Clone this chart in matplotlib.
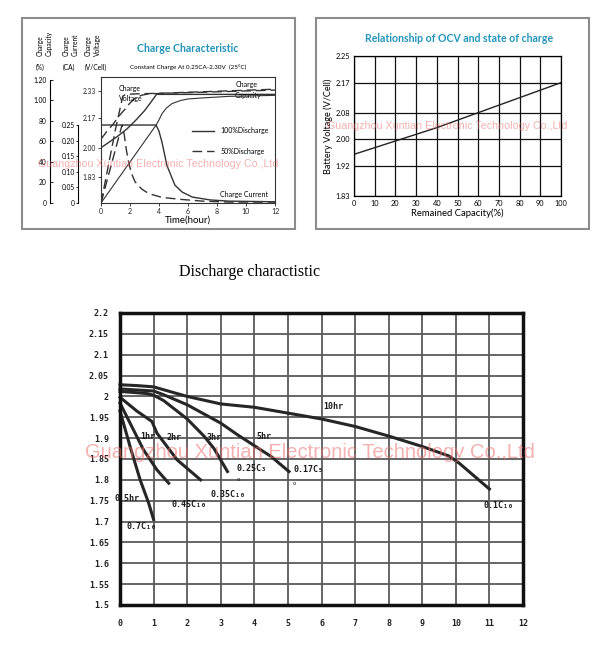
import matplotlib
matplotlib.use('Agg')
import matplotlib.pyplot as plt
from matplotlib.patches import Rectangle

# ---------------- Data: charge characteristic ----------------
time_ticks = [0, 2, 4, 6, 8, 10, 12]
voltage_ticks = [1.83, 2.00, 2.17, 2.33]
voltage_tick_labels = ['1.83', '2.00', '2.17', '2.33']
capacity_ticks = [0, 20, 40, 60, 80, 100, 120]
capacity_tick_labels = ['0', '20', '40', '60', '80', '1.00', '1.20']
current_ticks = [0, 0.05, 0.10, 0.15, 0.20, 0.25]
current_tick_labels = ['0', '0.05', '0.10', '0.15', '0.20', '0.25']

volt100_t = [0, 0.6, 1.2, 1.8, 2.4, 3.0, 3.4, 3.83, 6, 9, 12]
volt100_v = [2.0, 2.035, 2.07, 2.11, 2.16, 2.215, 2.26, 2.31, 2.31, 2.31, 2.31]
volt50_t = [0, 0.4, 0.83, 1.2, 1.64, 2.0, 2.33, 2.8, 3.26, 5, 8, 12]
volt50_v = [2.05, 2.095, 2.136, 2.18, 2.223, 2.26, 2.286, 2.305, 2.313, 2.318, 2.325, 2.335]

cur100_t = [0, 3.8, 4.0, 4.2, 4.55, 5.1, 5.6, 6.3, 7.5, 8.8, 12]
cur100_a = [0.25, 0.25, 0.23, 0.196, 0.12, 0.057, 0.035, 0.019, 0.01, 0.006, 0.004]
cur50_t = [0, 1.45, 1.6, 1.75, 1.9, 2.1, 2.35, 2.8, 3.3, 4.2, 5.4, 7, 8.8, 12]
cur50_a = [0, 0.25, 0.22, 0.17, 0.132, 0.095, 0.068, 0.045, 0.03, 0.018, 0.012, 0.006, 0.003, 0.003]

cap100_t = [0, 3.8, 4.0, 4.2, 4.5, 4.9, 5.5, 6, 7, 8.8, 12]
cap100_p = [0, 76, 81, 87, 92.5, 97, 100, 101.5, 102.5, 104, 105]
cap50_t = [0, 0.5, 1.0, 1.5, 1.7, 2.5, 4, 6, 8, 10, 12]
cap50_p = [0, 36, 72, 104, 106, 106.5, 107, 108, 109, 110, 111]

# ---------------- Data: OCV vs state of charge ----------------
ocv_capacity = [0, 20, 40, 60, 80, 100]
ocv_voltage = [1.955, 1.995, 2.035, 2.08, 2.125, 2.17]
ocv_x_ticks = [0, 10, 20, 30, 40, 50, 60, 70, 80, 90, 100]
ocv_y_ticks = [1.83, 1.92, 2.00, 2.08, 2.17, 2.25]
ocv_y_labels = ['1.83', '1.92', '2.00', '2.08', '2.17', '2.25']

# ---------------- Data: discharge characteristic ----------------
dis_x_ticks = [0, 1, 2, 3, 4, 5, 6, 7, 8, 9, 10, 11, 12]
dis_y_ticks = [1.5, 1.55, 1.6, 1.65, 1.7, 1.75, 1.8, 1.85, 1.9, 1.95, 2.0, 2.05, 2.1, 2.15, 2.2]
dis_y_labels = ['1.5', '1.55', '1.6', '1.65', '1.7', '1.75', '1.8', '1.85', '1.9',
                '1.95', '2', '2.05', '2.1', '2.15', '2.2']

h10_x = [0, 0.5, 1, 1.3, 2, 3, 4, 5, 6, 7, 8, 9, 9.8, 10.1, 11]
h10_v = [2.028, 2.026, 2.023, 2.016, 2.0, 1.982, 1.974, 1.96, 1.946, 1.928, 1.905, 1.88, 1.857, 1.84, 1.778]
h5_x = [0, 1, 1.3, 2, 2.5, 3, 3.5, 4, 4.5, 5.03]
h5_v = [2.018, 2.013, 2.004, 1.98, 1.958, 1.936, 1.908, 1.882, 1.856, 1.82]
h3_x = [0, 0.8, 1.0, 1.3, 2.0, 2.5, 2.8, 3.2]
h3_v = [2.012, 2.007, 2.003, 1.99, 1.946, 1.905, 1.875, 1.82]
h2_x = [0, 0.5, 0.95, 1.1, 1.7, 2.4]
h2_v = [1.998, 1.965, 1.94, 1.912, 1.848, 1.80]
h1_x = [0, 0.3, 0.7, 1.1, 1.45]
h1_v = [1.984, 1.936, 1.872, 1.824, 1.792]
h05_x = [0, 0.3, 0.6, 0.85, 1.0]
h05_v = [1.965, 1.88, 1.80, 1.745, 1.705]

dis_labels = ['10hr', '5hr', '3hr', '2hr', '1hr', '0.5hr',
              '0.1C₁₀', '0.17C₅', '0.25C₃', '0.35C₁₀', '0.45C₁₀', '0.7C₁₀']
dis_label_x = [6.05, 4.06, 2.57, 1.39, 0.6, -0.15, 10.83, 5.17, 3.48, 2.69, 1.54, 0.2]
dis_label_v = [1.975, 1.905, 1.902, 1.902, 1.903, 1.756, 1.738, 1.824, 1.828, 1.765, 1.74, 1.688]

WATERMARK = 'Guangzhou Xuntian Electronic Technology Co.,Ltd'

# ---------------- Figure ----------------
W, H = 600, 659
fig = plt.figure(figsize=(6, 6.59), dpi=100)
fig.patch.set_facecolor('white')


def rect(l, t, r, b):
    return [l / W, 1 - b / H, (r - l) / W, (b - t) / H]


def ftext(px, py, s, **kw):
    return fig.text(px / W, 1 - py / H, s, **kw)


TOP_FONT = ['Lato', 'DejaVu Sans']
TEAL = '#2394b8'
LC = '#333333'

# frames
for (l, t, r, b) in [(22, 18, 295, 229), (316, 18, 589, 229)]:
    fig.add_artist(Rectangle((l / W, 1 - b / H), (r - l) / W, (b - t) / H,
                             transform=fig.transFigure, fill=False,
                             edgecolor='#8c8c8c', lw=1.5))

# ---------- Charge characteristic ----------
ax_v = fig.add_axes(rect(101, 77, 275, 203))
ax_v.set_xlim(0, 12)
ax_v.set_ylim(1.679, 2.411)
ax_v.set_xticks(time_ticks)
ax_v.set_xticklabels([str(t) for t in time_ticks], family=TOP_FONT, fontsize=5)
ax_v.set_yticks(voltage_ticks)
ax_v.set_yticklabels(voltage_tick_labels, family=TOP_FONT, fontsize=4.8)
ax_v.tick_params(length=2, width=0.6, pad=1.5, colors='#222222')
for s in ax_v.spines.values():
    s.set_linewidth(0.8)
    s.set_color('#333333')
ax_v.set_xlabel('Time(hour)', family=TOP_FONT, fontsize=7, labelpad=0.5)

l100, = ax_v.plot(volt100_t, volt100_v, color=LC, lw=1.0, label='100%Discharge')
l50, = ax_v.plot(volt50_t, volt50_v, color=LC, lw=1.0, dashes=(7, 3.5), label='50%Discharge')

ax_cap = ax_v.twinx()
ax_cap.set_ylim(0, 122.9)
ax_cap.patch.set_visible(False)
for s in ['top', 'right', 'bottom']:
    ax_cap.spines[s].set_visible(False)
ax_cap.spines['left'].set_visible(True)
ax_cap.spines['left'].set_position(('axes', -0.293))
ax_cap.spines['left'].set_bounds(0, 120)
ax_cap.spines['left'].set_linewidth(0.8)
ax_cap.yaxis.set_ticks_position('left')
ax_cap.set_yticks(capacity_ticks)
ax_cap.set_yticklabels(capacity_tick_labels, family=TOP_FONT, fontsize=4.8)
ax_cap.tick_params(axis='y', direction='in', length=2, width=0.6, pad=2.5)
ax_cap.plot(cap100_t, cap100_p, color=LC, lw=0.8)
ax_cap.plot(cap50_t, cap50_p, color=LC, lw=1.0, dashes=(7, 3.5))

ax_cur = ax_v.twinx()
ax_cur.set_ylim(0, 0.404)
ax_cur.patch.set_visible(False)
for s in ['top', 'right', 'bottom']:
    ax_cur.spines[s].set_visible(False)
ax_cur.spines['left'].set_visible(True)
ax_cur.spines['left'].set_position(('axes', -0.132))
ax_cur.spines['left'].set_bounds(0, 0.25)
ax_cur.spines['left'].set_linewidth(0.8)
ax_cur.yaxis.set_ticks_position('left')
ax_cur.set_yticks(current_ticks)
ax_cur.set_yticklabels(current_tick_labels, family=TOP_FONT, fontsize=4.8)
ax_cur.tick_params(axis='y', direction='out', length=1.5, width=0.6, pad=0.8)
ax_cur.plot(cur100_t, cur100_a, color=LC, lw=1.0)
ax_cur.plot(cur50_t, cur50_a, color=LC, lw=1.0, dashes=(7, 3.5))

leg = ax_cur.legend(handles=[l100, l50], loc='upper left', bbox_to_anchor=(0.523, 0.60),
                    frameon=False, borderpad=0, borderaxespad=0, handlelength=3.2,
                    handletextpad=0.9, labelspacing=1.9,
                    prop={'family': TOP_FONT, 'size': 5})

ax_v.text(1.95, 2.342, 'Charge', fontsize=5, family=TOP_FONT, ha='center', va='center')
ax_v.text(2.05, 2.284, 'Voltage', fontsize=5, family=TOP_FONT, ha='center', va='center')
ax_v.text(10.05, 2.365, 'Charge', fontsize=5, family=TOP_FONT, ha='center', va='center')
ax_v.text(10.16, 2.301, 'Capacity', fontsize=5, family=TOP_FONT, ha='center', va='center')
ax_v.text(9.87, 1.731, 'Charge Current', fontsize=5, family=TOP_FONT, ha='center', va='center')

ftext(188, 49, 'Charge Characteristic', family=TOP_FONT, fontsize=7.6,
      fontweight='bold', color=TEAL, ha='center', va='center')
ftext(188, 67, 'Constant Charge At 0.25CA-2.30V  (25°C)', family=TOP_FONT,
      fontsize=4.5, ha='center', va='center')
for cx, s in [(45, 'Charge\nCapacity'), (71, 'Charge\nCurrent'), (92.5, 'Charge\nVoltage')]:
    ftext(cx, 56, s, family=TOP_FONT, fontsize=4.8, rotation=90, ha='center',
          va='bottom', multialignment='left', linespacing=1.35)
for cx, s in [(40, '(%)'), (69, '(CA)'), (96, '(V/Cell)')]:
    ftext(cx, 67, s, family=TOP_FONT, fontsize=4.8, ha='center', va='center')

# ---------- OCV vs state of charge ----------
ax_o = fig.add_axes(rect(354, 56, 561, 196))
ax_o.set_xlim(0, 100)
ax_o.set_ylim(1.83, 2.25)
ax_o.set_xticks(ocv_x_ticks)
ax_o.set_xticklabels([str(v) for v in ocv_x_ticks], family=TOP_FONT, fontsize=5.3)
ax_o.set_yticks(ocv_y_ticks)
ax_o.set_yticklabels(ocv_y_labels, family=TOP_FONT, fontsize=5.3)
ax_o.tick_params(length=0, pad=3)
ax_o.grid(True, color='#111111', lw=0.9)
for s in ax_o.spines.values():
    s.set_linewidth(0.9)
ax_o.plot(ocv_capacity, ocv_voltage, color='#222222', lw=1.0)
ax_o.set_xlabel('Remained Capacity(%)', family=TOP_FONT, fontsize=6.8, labelpad=1)
ax_o.set_ylabel('Battery Voltage (V/Cell)', family=TOP_FONT, fontsize=6.6, labelpad=2)
ftext(459, 39, 'Relationship of OCV and state of charge', family=TOP_FONT, fontsize=7.6,
      fontweight='bold', color=TEAL, ha='center', va='center')

# ---------- Discharge characteristic ----------
ax_d = fig.add_axes(rect(120, 313, 523, 605))
ax_d.set_xlim(0, 12)
ax_d.set_ylim(1.5, 2.2)
ax_d.set_xticks(dis_x_ticks)
ax_d.set_xticklabels([str(v) for v in dis_x_ticks], family=['DejaVu Sans Mono'],
                     fontsize=6, fontweight='bold')
ax_d.set_yticks(dis_y_ticks)
ax_d.set_yticklabels(dis_y_labels, family=['DejaVu Sans Mono'], fontsize=6, fontweight='bold')
ax_d.tick_params(length=0, colors='#222222')
ax_d.tick_params(axis='x', pad=10)
ax_d.tick_params(axis='y', pad=8)
ax_d.grid(True, color='#5a5a5a', lw=1.3)
ax_d.set_axisbelow(True)
for s in ax_d.spines.values():
    s.set_linewidth(2.5)
    s.set_color('#111111')

for xs, vs in [(h10_x, h10_v), (h5_x, h5_v), (h3_x, h3_v), (h2_x, h2_v),
               (h1_x, h1_v), (h05_x, h05_v)]:
    ax_d.plot(xs, vs, color='#262626', lw=2.2, solid_joinstyle='round', clip_on=False)

for s, x, v in zip(dis_labels, dis_label_x, dis_label_v):
    ax_d.text(x, v, s, family=['DejaVu Sans Mono', 'DejaVu Sans'], fontsize=6,
              fontweight='bold', ha='left', va='center', color='#1a1a1a', clip_on=False)
for x, v in [(3.51, 1.80), (5.19, 1.792)]:
    ax_d.text(x, v, 'o', family=['DejaVu Sans Mono'], fontsize=4, ha='center',
              va='center', color='#1a1a1a')

ftext(250, 272, 'Discharge charactistic', family=['Liberation Serif', 'DejaVu Serif'],
      fontsize=11.5, ha='center', va='center')

# ---------- Watermarks ----------
wm = dict(family=['Liberation Sans', 'DejaVu Sans'], color='#ee6f6f', alpha=0.55,
          ha='center', va='center', zorder=10)
ftext(158, 164, WATERMARK, fontsize=7.7, **wm)
ftext(447, 126, WATERMARK, fontsize=7.7, **wm)
ftext(310, 452, WATERMARK, fontsize=14.5, **wm)

fig.savefig('out.png', dpi=100)
